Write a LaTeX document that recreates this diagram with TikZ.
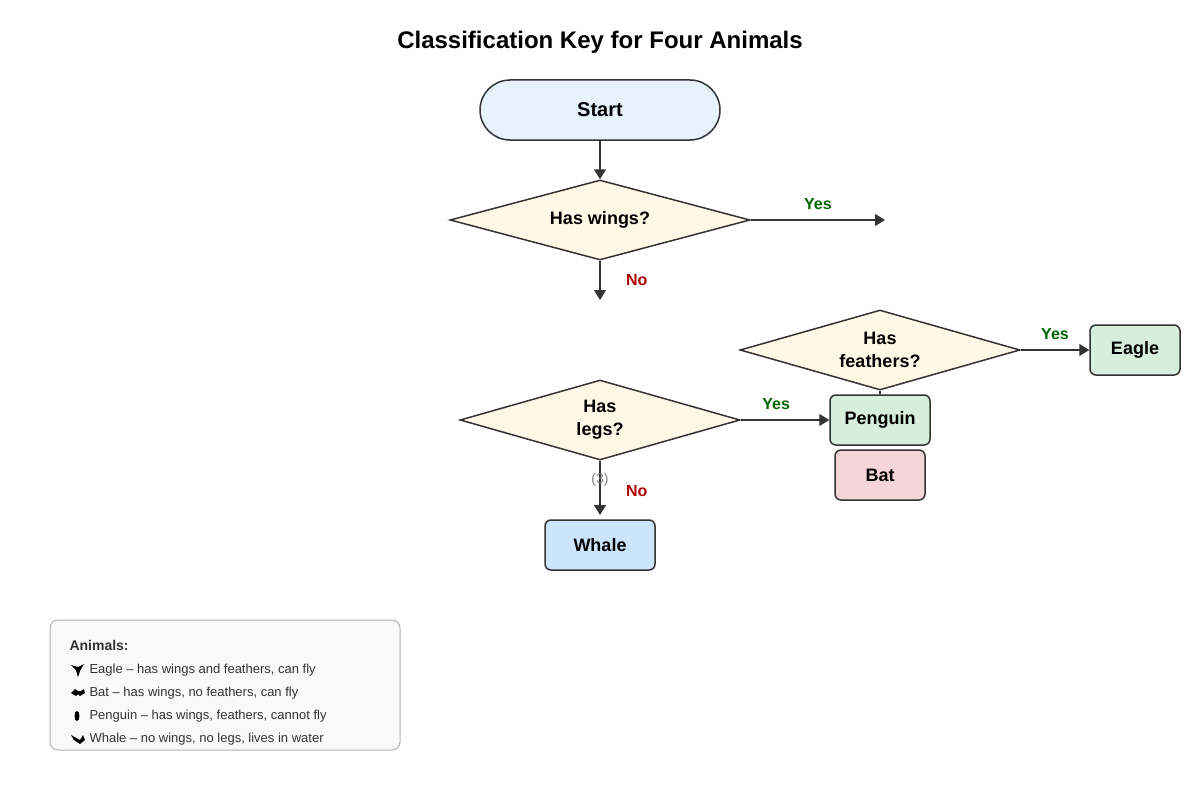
\documentclass[tikz,border=0pt]{standalone}
\usepackage{fontspec}
\setmainfont{Liberation Sans}
\usetikzlibrary{shapes.geometric,arrows.meta}
\definecolor{ln}{HTML}{333333}
\definecolor{yesc}{HTML}{006400}
\definecolor{noc}{HTML}{B00000}
\definecolor{cstart}{HTML}{E6F2FC}
\definecolor{cdia}{HTML}{FFF8E6}
\definecolor{cgreen}{HTML}{D6EEDB}
\definecolor{cred}{HTML}{F6D5D9}
\definecolor{cblue}{HTML}{CCE5FB}
\begin{document}
\begin{tikzpicture}[x=1pt,y=-1pt,
  box/.style={draw=ln,line width=1.5pt,rounded corners=6pt,minimum height=50pt,font=\fontsize{18}{20}\selectfont\bfseries,inner sep=0pt},
  dia/.style={diamond,draw=ln,line width=1.5pt,fill=cdia,aspect=3.5,minimum width=280pt,minimum height=80pt,inner sep=0pt,align=center,font=\fontsize{18}{23}\selectfont\bfseries},
  arr/.style={draw=ln,line width=1.5pt,-{Triangle[length=10pt,width=12pt]}},
  yes/.style={text=yesc,font=\fontsize{16}{18}\selectfont\bfseries},
  no/.style={text=noc,font=\fontsize{16}{18}\selectfont\bfseries},
  leg/.style={anchor=west,font=\fontsize{13}{15}\selectfont,text=ln}]
\useasboundingbox (0,0) rectangle (1200,800);
\node (title) at (600,42) {\fontsize{24}{28}\selectfont\bfseries Classification Key for Four Animals};
\node[box,fill=cstart,rounded corners=30pt,minimum width=240pt,minimum height=60pt,font=\fontsize{20}{22}\selectfont\bfseries] (start) at (600,110) {Start};
\node[dia,minimum width=300pt,aspect=3.75] (d1) at (600,220) {Has wings?};
\coordinate (e1) at (885,220);
\coordinate (e2) at (600,300);
\draw[arr] (start) -- (d1.north);
\draw[arr] (d1.east) -- (e1) node[yes,pos=0.5,above=6pt] {Yes};
\draw[arr] (d1.south) -- (e2) node[no,pos=0.5,right=22pt] {No};
\node[dia] (d2) at (880,350) {Has\\feathers?};
\node[box,fill=cgreen,minimum width=90pt] (eagle) at (1135,350) {Eagle};
\draw[arr] (d2.east) -- (eagle.west) node[yes,pos=0.5,above=6pt] {Yes};
\node[dia] (d3) at (600,420) {Has\\legs?};
\node[box,fill=cgreen,minimum width=100pt] (peng) at (880,420) {Penguin};
\node[box,fill=cred,minimum width=90pt] (bat) at (880,475) {Bat};
\draw[ln,line width=1.5pt] (d2.south) -- (peng.north);
\draw[arr] (d3.east) -- (peng.west) node[yes,pos=0.4,above=6pt] {Yes};
\node[box,fill=cblue,minimum width=110pt] (whale) at (600,545) {Whale};
\coordinate (wt) at (600,515);
\draw[arr] (d3.south) -- (wt) node[no,pos=0.55,right=22pt] {No};
\node[text=gray,font=\fontsize{14}{16}\selectfont] (three) at (600,480) {(3)};
\node[draw=gray!60,line width=1pt,fill=gray!5,rounded corners=8pt,minimum width=350pt,minimum height=130pt] (legend) at (225,685) {};
\node[leg,font=\fontsize{14}{16}\selectfont\bfseries] (lt) at (66,645) {Animals:};
\node[leg] (l1) at (86,670) {Eagle – has wings and feathers, can fly};
\node[leg] (l2) at (86,693) {Bat – has wings, no feathers, can fly};
\node[leg] (l3) at (86,716) {Penguin – has wings, feathers, cannot fly};
\node[leg] (l4) at (86,739) {Whale – no wings, no legs, lives in water};
% icons
\fill[black] (71,665) -- (78,667) -- (84,664) -- (80,671) -- (78,677) -- (76,670) -- cycle;
\fill[black] (71,693) -- (75,689) -- (78,691) -- (81,691) -- (84,689) -- (85,693) -- (80,696) -- (78,694) -- (76,696) -- cycle;
\fill[black] (77,716) ellipse (2.5pt and 5pt);
\fill[black] (71,735) -- (80,740) -- (83,735) -- (85,740) -- (80,744) -- (74,740) -- cycle;
\end{tikzpicture}
\end{document}
